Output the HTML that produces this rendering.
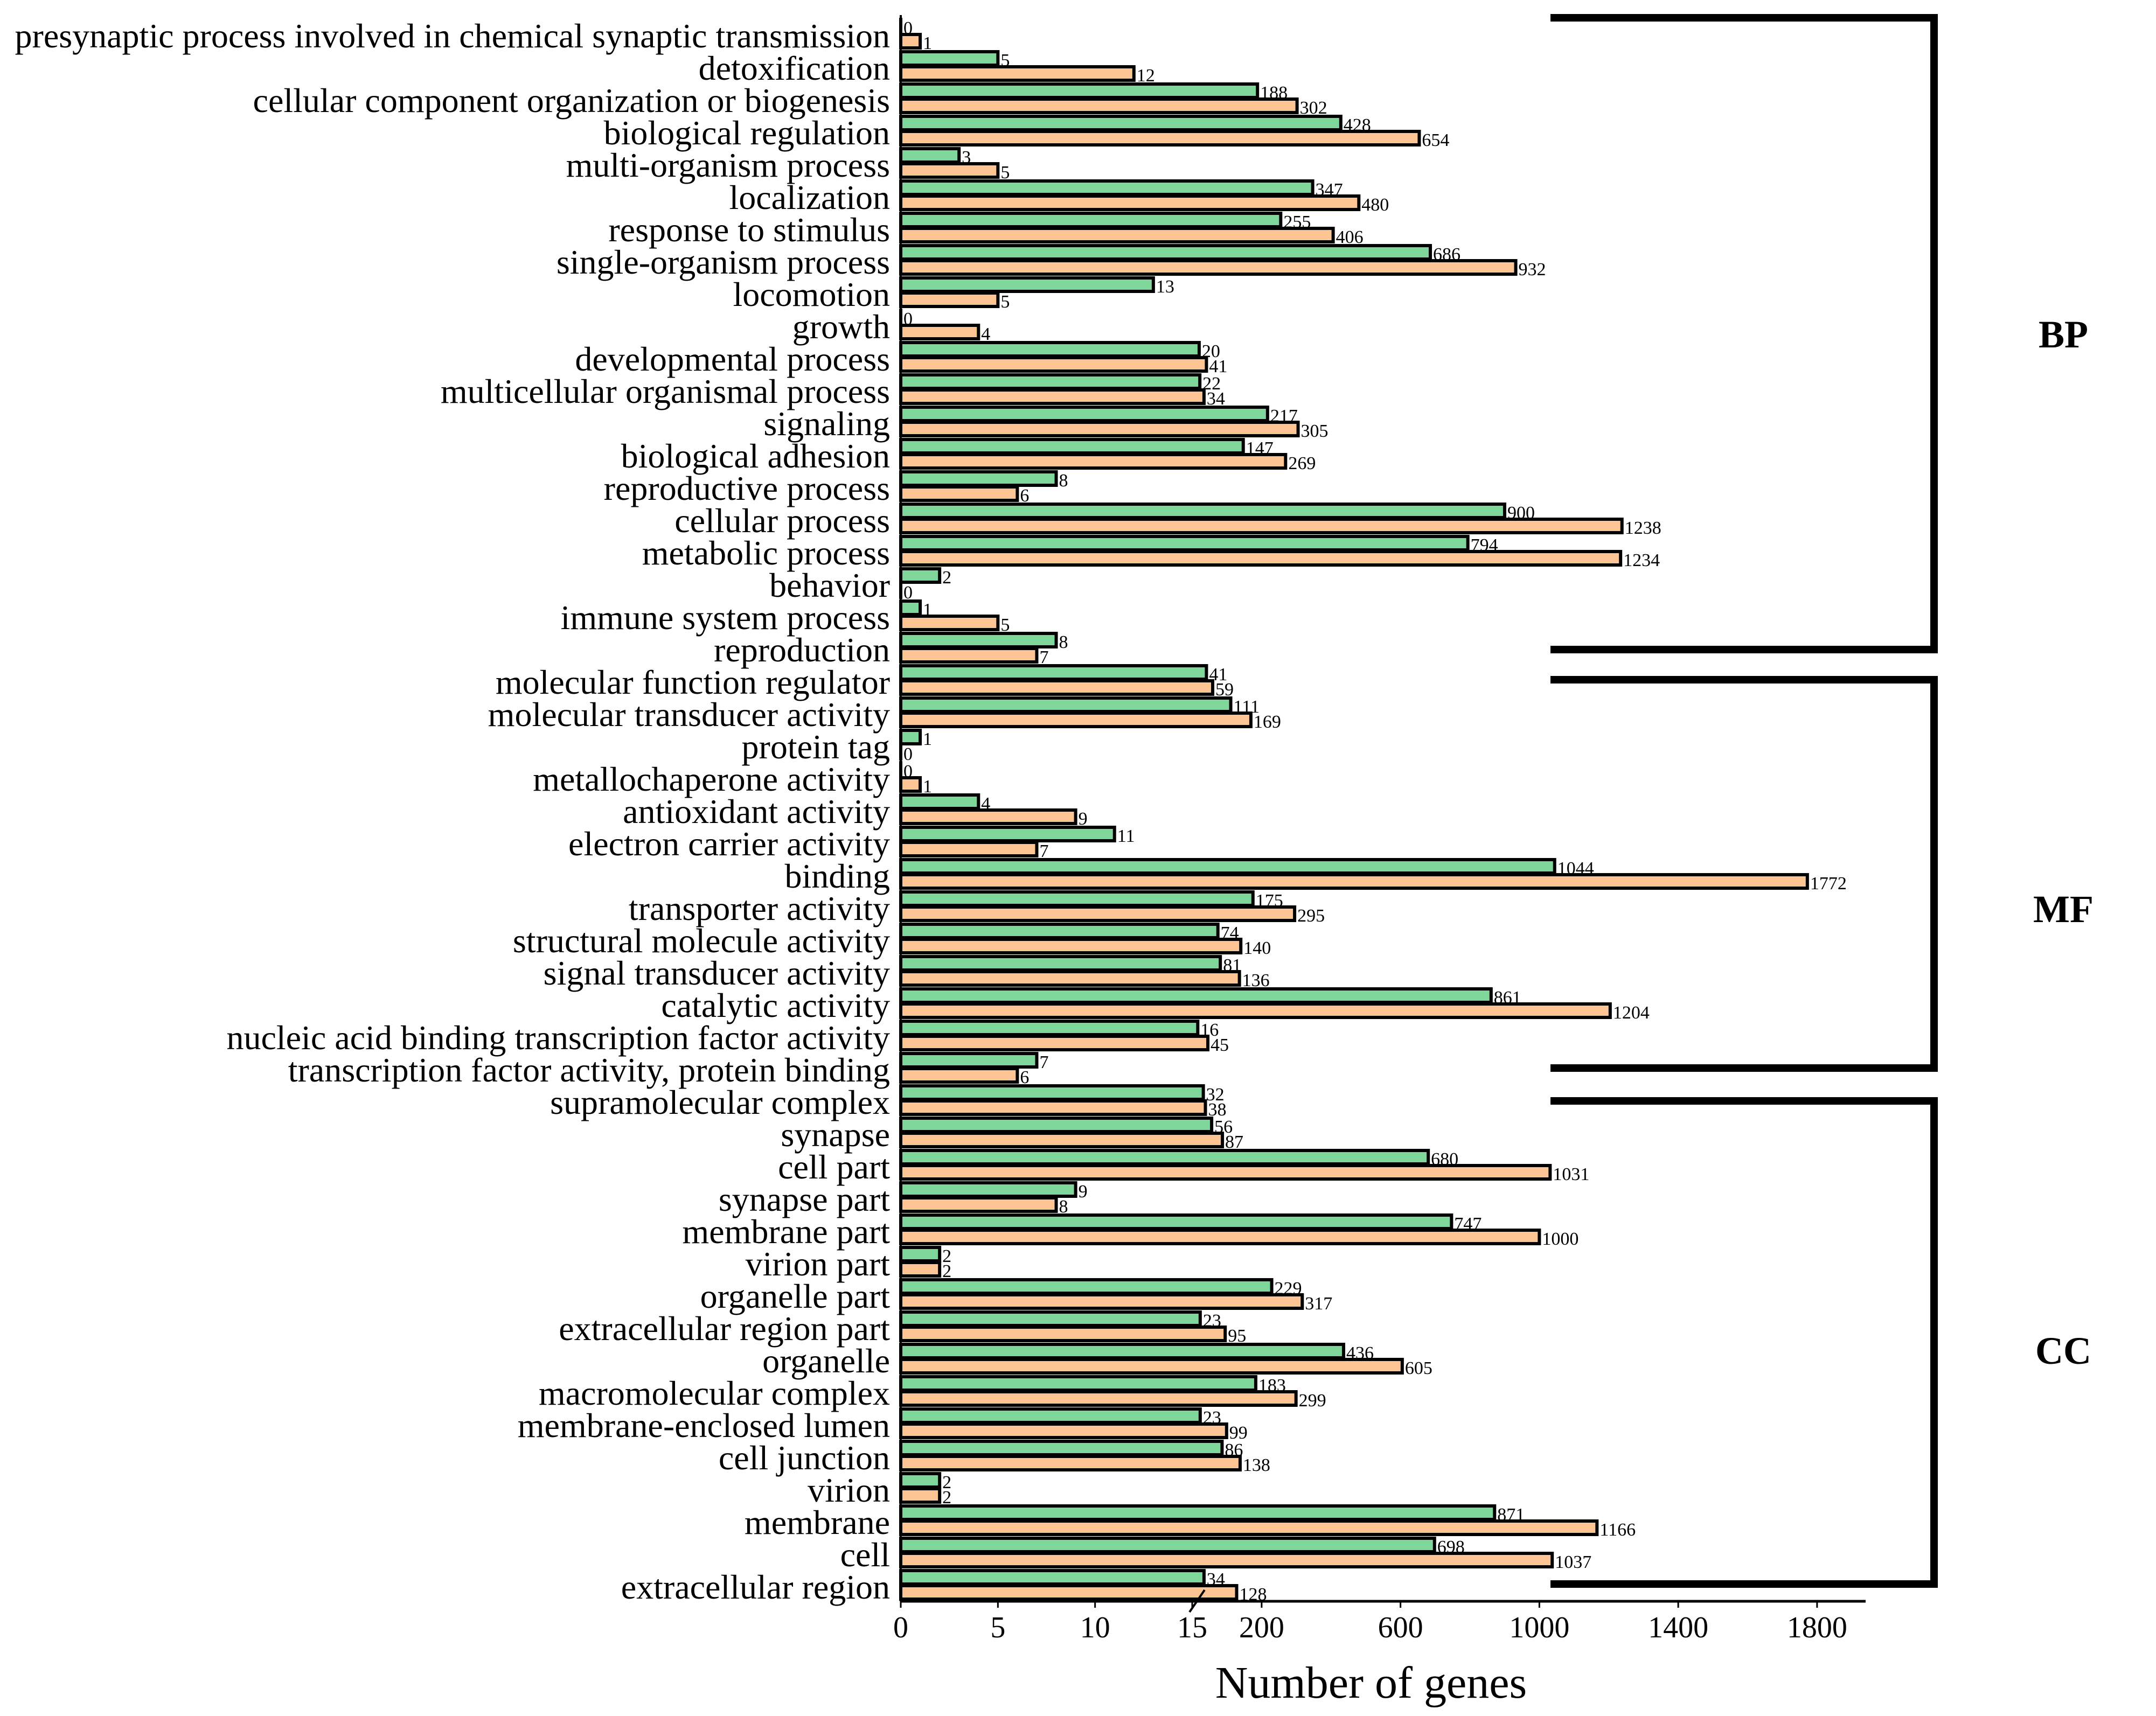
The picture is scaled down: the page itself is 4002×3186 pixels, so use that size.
<!DOCTYPE html>
<html><head><meta charset="utf-8"><style>
html,body{margin:0;padding:0;background:#fff;}
svg{display:block;font-family:"Liberation Serif",serif;}
</style></head><body>
<svg id="chart" width="4002" height="3186" viewBox="0 0 4002 3186" xmlns="http://www.w3.org/2000/svg">
<g id="bars"></g>
<g id="labels"></g>
<g id="axis"></g>
<text x="2545" y="3152" font-size="84" text-anchor="middle">Number of genes</text>
<g fill="none" stroke="#000" stroke-width="14">
<polyline points="2878,33 3590,33 3590,1206 2878,1206"/></g>
<text x="3830" y="645" font-size="72" font-weight="bold" text-anchor="middle">BP</text>
<g fill="none" stroke="#000" stroke-width="14">
<polyline points="2878,1262 3590,1262 3590,1983 2878,1983"/></g>
<text x="3830" y="1712" font-size="72" font-weight="bold" text-anchor="middle">MF</text>
<g fill="none" stroke="#000" stroke-width="14">
<polyline points="2878,2044 3590,2044 3590,2941 2878,2941"/></g>
<text x="3830" y="2532" font-size="72" font-weight="bold" text-anchor="middle">CC</text>
</svg>
<script>
const categories = ["presynaptic process involved in chemical synaptic transmission","detoxification","cellular component organization or biogenesis","biological regulation","multi-organism process","localization","response to stimulus","single-organism process","locomotion","growth","developmental process","multicellular organismal process","signaling","biological adhesion","reproductive process","cellular process","metabolic process","behavior","immune system process","reproduction","molecular function regulator","molecular transducer activity","protein tag","metallochaperone activity","antioxidant activity","electron carrier activity","binding","transporter activity","structural molecule activity","signal transducer activity","catalytic activity","nucleic acid binding transcription factor activity","transcription factor activity, protein binding","supramolecular complex","synapse","cell part","synapse part","membrane part","virion part","organelle part","extracellular region part","organelle","macromolecular complex","membrane-enclosed lumen","cell junction","virion","membrane","cell","extracellular region"];
const greenValues = [0,5,188,428,3,347,255,686,13,0,20,22,217,147,8,900,794,2,1,8,41,111,1,0,4,11,1044,175,74,81,861,16,7,32,56,680,9,747,2,229,23,436,183,23,86,2,871,698,34];
const orangeValues = [1,12,302,654,5,480,406,932,5,4,41,34,305,269,6,1238,1234,0,5,7,59,169,0,1,9,7,1772,295,140,136,1204,45,6,38,87,1031,8,1000,2,317,95,605,299,99,138,2,1166,1037,128];
const lowTicks = [0,5,10,15];
const highTicks = [200,600,1000,1400,1800];

const NS="http://www.w3.org/2000/svg";
const X0=1672, LOWPX=(2213-1672)/15, HIGH0=2213, HSLOPE=(3373-2342)/1600;
function xScale(v){ return v<=15 ? X0+v*LOWPX : HIGH0+v*HSLOPE; }
const TOP=33, PITCH=(2973-33)/categories.length;
function mk(tag,attrs,parent){const e=document.createElementNS(NS,tag);for(const k in attrs)e.setAttribute(k,attrs[k]);parent.appendChild(e);return e;}
const gb=document.getElementById('bars'), gl=document.getElementById('labels'), ga=document.getElementById('axis');
categories.forEach((c,i)=>{
  const y=TOP+i*PITCH;
  const t=mk('text',{x:1652,y:y+55,'font-size':64,'text-anchor':'end'},gl);
  
  
  t.textContent=c;
  [[greenValues[i],'#7fd69a',y+3,'green'],[orangeValues[i],'#fdc593',y+31,'orange']].forEach(([v,col,by,nm])=>{
    const w=xScale(v)-X0;
    const r=mk('rect',{x:X0,y:by,width:Math.max(w,0.01),height:25,fill:col,stroke:'#000','stroke-width':6},gb);
    
    
    const vt=mk('text',{x:xScale(v)+5,y:by+27,'font-size':34},gb);
    
    
    vt.textContent=v;
  });
});
mk('line',{x1:X0,y1:28,x2:X0,y2:2973,stroke:'#000','stroke-width':4},ga);
mk('line',{x1:X0,y1:2973,x2:3463,y2:2973,stroke:'#000','stroke-width':5},ga);
lowTicks.concat(highTicks).forEach(v=>{
  const x=xScale(v);
  mk('line',{x1:x,y1:2973,x2:x,y2:2985,stroke:'#000','stroke-width':3},ga);
  const t=mk('text',{x:x,y:3040,'font-size':56,'text-anchor':'middle'},ga);
  
  
  t.textContent=v;
});
const br=mk('line',{x1:2208,y1:2993,x2:2236,y2:2952,stroke:'#000','stroke-width':4},ga);


</script>
</body></html>
